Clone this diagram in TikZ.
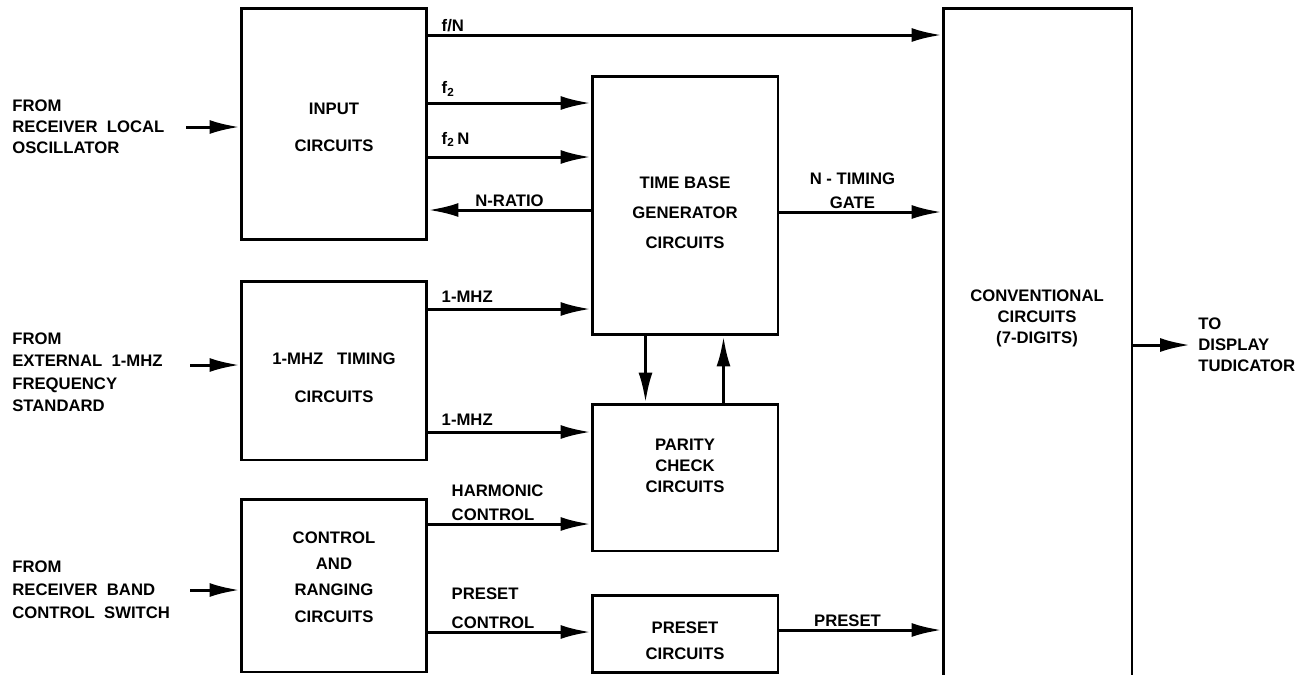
\documentclass[tikz,border=0pt]{standalone}
\usepackage{fontspec}
\setmainfont{Liberation Sans}
\usetikzlibrary{arrows.meta}

\tikzset{
  blk/.style={draw, line width=1.7pt, inner sep=0pt},
  txt/.style={font=\bfseries\fontsize{9.5}{12}\selectfont, align=center, inner sep=0pt},
  src/.style={font=\bfseries\fontsize{9.5}{12}\selectfont, align=left, anchor=west, inner sep=0pt},
  lab/.style={font=\bfseries\fontsize{9.5}{13.5}\selectfont, inner sep=1pt},
  sig/.style={line width=1.7pt, -{Latex[length=0.6cm,width=0.28cm]}},
}

\begin{document}
\begin{tikzpicture}[x=0.02cm, y=-0.02cm]
  \useasboundingbox (0,0) rectangle (1314,674);
  \clip (0,0) rectangle (1314,674);

  % Boxes (centres in pixels, sizes in cm)
  \node[blk, minimum width=3.72cm, minimum height=4.64cm] (inp) at (334,124) {};
  \node[blk, minimum width=3.72cm, minimum height=3.58cm] (mhz) at (334,370.5) {};
  \node[blk, minimum width=3.72cm, minimum height=3.46cm] (ctl) at (334,585.5) {};
  \node[blk, minimum width=3.72cm, minimum height=5.18cm] (tb) at (685,205.5) {};
  \node[blk, minimum width=3.72cm, minimum height=2.94cm] (par) at (685,477.5) {};
  \node[blk, minimum width=3.72cm, minimum height=1.54cm] (pre) at (685,633.5) {};
  \node[blk, minimum width=3.78cm, minimum height=14.24cm] (conv) at (1037.5,364) {};

  % Box texts
  \node[txt] (inp-t) at (334,127) {INPUT\\[9pt]CIRCUITS};
  \node[txt] (mhz-t) at (334,378) {1-MHZ~~~TIMING\\[9.5pt]CIRCUITS};
  \node[txt] (ctl-t) at (334,577) {CONTROL\\[3pt]AND\\[3pt]RANGING\\[3pt]CIRCUITS};
  \node[txt] (tb-t) at (685,213) {TIME BASE\\[5pt]GENERATOR\\[5pt]CIRCUITS};
  \node[txt] (par-t) at (685,466) {PARITY\\CHECK\\CIRCUITS};
  \node[txt] (pre-t) at (685,641) {PRESET\\[3pt]CIRCUITS};
  \node[txt] (conv-t) at (1037,318) {CONVENTIONAL\\CIRCUITS\\(7-DIGITS)};

  % Sources and sink
  \node[src] (src1) at (12,127) {FROM\\RECEIVER~~LOCAL\\OSCILLATOR};
  \node[src, font=\bfseries\fontsize{9.5}{12.8}\selectfont] (src2) at (12,372) {FROM\\EXTERNAL~~1-MHZ\\FREQUENCY\\STANDARD};
  \node[src, font=\bfseries\fontsize{9.5}{13}\selectfont] (src3) at (12,590) {FROM\\RECEIVER~~BAND\\CONTROL~~SWITCH};
  \node[src] (snk) at (1198,345) {TO\\DISPLAY\\TUDICATOR};
  \coordinate (in1) at (186,127);
  \coordinate (in2) at (190,365);
  \coordinate (in3) at (190,590);
  \coordinate (out) at (1190,345);

  % Inputs
  \draw[sig] (in1) -- (inp.west |- in1);
  \draw[sig] (in2) -- (mhz.west |- in2);
  \draw[sig] (in3) -- (ctl.west |- in3);

  % Input circuits
  \draw[sig] (inp.east |- 0,35) -- node[lab, pos=0, anchor=south west, xshift=0.2cm] {f/N} (conv.west |- 0,35);
  \draw[sig] (inp.east |- 0,103) -- node[lab, pos=0, anchor=south west, xshift=0.2cm, yshift=2pt] {f\textsubscript{2}} (tb.west |- 0,103);
  \draw[sig] (inp.east |- 0,157) -- node[lab, pos=0, anchor=south west, xshift=0.2cm, yshift=4pt] {f\textsubscript{2}\,N} (tb.west |- 0,157);
  \draw[sig] (tb.west |- 0,210) -- node[lab, pos=0.5, anchor=south] {N-RATIO} (inp.east |- 0,210);

  % Time base
  \draw[sig] (tb.east |- 0,212) -- node[lab, pos=0.45, anchor=south, align=center] {N - TIMING\\GATE} (conv.west |- 0,212);
  \draw[sig] ([xshift=1.1cm]tb.south west) -- ([xshift=1.1cm]par.north west);
  \draw[sig] ([xshift=2.66cm]par.north west) -- ([xshift=2.66cm]tb.south west);

  % 1-MHz timing
  \draw[sig] (mhz.east |- 0,309) -- node[lab, pos=0, anchor=south west, xshift=0.2cm, yshift=2pt] {1-MHZ} (tb.west |- 0,309);
  \draw[sig] (mhz.east |- 0,432) -- node[lab, pos=0, anchor=south west, xshift=0.2cm, yshift=2pt] {1-MHZ} (par.west |- 0,432);

  % Control and ranging
  \draw[sig] (ctl.east |- 0,524) -- node[lab, pos=0, anchor=south west, xshift=0.4cm, align=left] {HARMONIC\\CONTROL} (par.west |- 0,524);
  \draw[sig] (ctl.east |- 0,632) -- node[lab, pos=0, anchor=south west, xshift=0.4cm, align=left] {PRESET\\[3pt]CONTROL} (pre.west |- 0,632);
  \draw[sig] (pre.east |- 0,630) -- node[lab, pos=0.42, anchor=south] {PRESET} (conv.west |- 0,630);

  % Output
  \draw[sig] (conv.east |- out) -- (out);
\end{tikzpicture}
\end{document}
